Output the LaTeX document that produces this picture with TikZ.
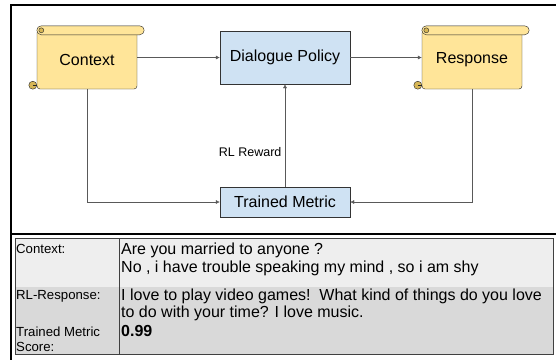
\documentclass[tikz,border=0pt]{standalone}
\usepackage{fontspec}
\setmainfont{Liberation Sans}
\usetikzlibrary{arrows.meta}
\definecolor{scrollYellow}{HTML}{FFE599}
\definecolor{scrollTan}{HTML}{D6B656}
\definecolor{policyBlue}{HTML}{CFE2F3}
\definecolor{rowLight}{HTML}{EEEEEE}
\definecolor{rowDark}{HTML}{D9D9D9}
\tikzstyle{fScroll} = [rectangle, rounded corners=3pt, minimum width=100pt, minimum height=59pt, text centered, draw=black!85, fill=scrollYellow, font=\fontsize{16}{18}\selectfont]
\tikzstyle{fRoll} = [draw=black!85, fill=scrollYellow, rounded corners=4.5pt]
\tikzstyle{fCurl} = [draw=black!85, fill=scrollTan]
\tikzstyle{fBlock} = [rectangle, minimum width=130pt, text centered, draw=black!80, fill=policyBlue, font=\fontsize{16}{18}\selectfont]
\tikzstyle{fArrow} = [draw=black!65, -{Latex[length=4pt,width=4pt]}]
\tikzstyle{fFrame} = [line width=2pt, draw=black]
\tikzstyle{fCell} = [anchor=base west, inner sep=0pt, font=\fontsize{16}{18}\selectfont]
\tikzstyle{fHead} = [anchor=base west, inner sep=0pt, font=\fontsize{13.2}{15}\selectfont]
\newcommand{\scrollRolls}[1]{%
    \draw [fRoll] ([shift={(0,-4)}]#1.north west) rectangle ([shift={(7,5)}]#1.north east);
    \draw [fCurl] ([shift={(4.5,0.5)}]#1.north west) circle[radius=2.5pt];
    \draw [fCurl] ([shift={(-4,-4)}]#1.south west) circle[radius=4pt];
    \draw [draw=black!85] ([shift={(-4,-4)}]#1.south west) -- ([shift={(0,-4)}]#1.south west);
}

\begin{document}
\begin{tikzpicture}[x=1pt, y=-1pt, node distance=198pt]
    \useasboundingbox (0,0) rectangle (556,360);
    \draw [fFrame] (556,5) -- (11,5) -- (11,360);
    \draw [fFrame] (11,233.5) -- (556,233.5);

    \node (context) [fScroll] at (87,59.5) {Context};
    \node (policy) [fBlock, minimum height=53pt, right of=context, yshift=2pt] {Dialogue Policy};
    \node (response) [fScroll, right of=policy, node distance=187pt, yshift=-2pt] {Response};
    \node (metric) [fBlock, minimum height=30pt, below of=policy, node distance=144.5pt] {Trained Metric};
    \scrollRolls{context}
    \scrollRolls{response}

    \draw [fArrow] (context.east |- policy.west) -- (policy.west);
    \draw [fArrow] (policy.east) -- (response.west |- policy.east);
    \draw [fArrow] (context.south) |- (metric.west);
    \draw [fArrow] (response.south) |- (metric.east);
    \draw [fArrow] (metric.north) -- node[pos=0.34, left, font=\fontsize{12.5}{14}\selectfont] {RL Reward} (policy.south);

    \fill [rowLight] (15,238) rectangle (553,287);
    \fill [rowDark] (15,287) rectangle (553,354);
    \draw [black!75, line width=0.8pt] (15,238) rectangle (553,354);
    \draw [black!75, line width=0.8pt] (119,238) -- (119,354);

    \node (ctxHead) [fHead] at (16,253) {Context:};
    \node (rlHead) [fHead] at (16,299) {RL-Response:};
    \node (scoreHeadA) [fHead] at (16,336) {Trained Metric};
    \node (scoreHeadB) [fHead] at (16,351) {Score:};
    \node (ctxLineA) [fCell] at (121,254) {Are you married to anyone ?};
    \node (ctxLineB) [fCell] at (121,272) {No , i have trouble speaking my mind , so i am shy};
    \node (rlLineA) [fCell] at (121,300) {I love to play video games!\ \ What kind of things do you love};
    \node (rlLineB) [fCell] at (121,317) {to do with your time? I love music.};
    \node (scoreVal) [fCell] at (121,336) {\textbf{0.99}};
\end{tikzpicture}
\end{document}
